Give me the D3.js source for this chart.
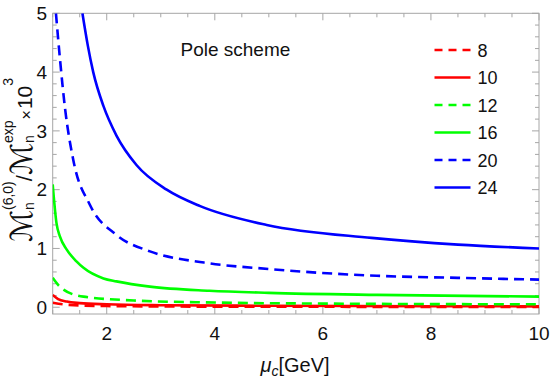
<!DOCTYPE html>
<html>
<head>
<meta charset="utf-8">
<script src="https://cdn.jsdelivr.net/npm/d3@7"></script>
<style>
  body { margin: 0; background: #fff; }
  svg { font-family: "Liberation Sans", Arial, sans-serif; }
</style>
</head>
<body>
<svg id="chart"></svg>
<script>
// values: [mu_c, M(6,0)/M(exp) x 10^3]
const n8 = [[1.0, 0.075], [1.3, 0.04], [2, 0.02], [4, 0.01], [10, 0.005]];
const n10 = [[1.0, 0.21], [1.1, 0.14], [1.26, 0.096], [1.5, 0.07], [2, 0.05], [3, 0.035], [5, 0.025], [10, 0.015]];
const n12 = [[1.0, 0.50], [1.1, 0.38], [1.2, 0.30], [1.57, 0.18], [2.5, 0.115], [4, 0.08], [6, 0.062], [10, 0.05]];
const n16 = [[1.0, 2.09], [1.07, 1.43], [1.135, 1.20], [1.26, 0.98], [1.44, 0.78], [1.57, 0.67], [1.94, 0.49],
  [2.18, 0.44], [2.8, 0.35], [3.9, 0.28], [5, 0.245], [7, 0.21], [10, 0.18]];
const n20 = [[1.06, 5.0], [1.135, 4.22], [1.23, 3.37], [1.38, 2.51], [1.69, 1.74], [2.18, 1.23], [2.8, 0.95],
  [3.8, 0.76], [5, 0.65], [7, 0.535], [8.5, 0.50], [10, 0.47]];
const n24 = [[1.55, 5.0], [1.65, 4.45], [1.75, 4.0], [1.94, 3.42], [2.18, 2.92], [2.55, 2.42], [3.11, 2.0],
  [3.73, 1.72], [4.96, 1.40], [6.9, 1.18], [8.5, 1.065], [10, 1.0]];

const seriesNames = ['8', '10', '12', '16', '20', '24'];
const seriesData = [n8, n10, n12, n16, n20, n24];
const seriesColors = ['#ff0000', '#ff0000', '#00ff00', '#00ff00', '#0000ff', '#0000ff'];
const seriesDashed = [true, false, true, false, true, false];

const xTicks = [2, 4, 6, 8, 10];
const yTicks = [0, 1, 2, 3, 4, 5];

const width = 552, height = 382;
const margin = { left: 52.7, right: 539, top: 13.3, bottom: 314 };

const svg = d3.select('#chart').attr('width', width).attr('height', height);

const x = d3.scaleLinear().domain([1, 10]).range([margin.left, margin.right]);
const y = d3.scaleLinear().domain([-0.115, 5]).range([margin.bottom, margin.top]);

// 裁剪区域
svg.append('clipPath').attr('id', 'clip')
  .append('rect')
  .attr('x', margin.left).attr('y', margin.top)
  .attr('width', margin.right - margin.left).attr('height', margin.bottom - margin.top);

// 框和刻度
const frameColor = '#a6a6a6';
const xMinor = d3.range(1, 10.01, 0.5);
const yMinor = d3.range(0, 5.01, 0.2);

const ticks = svg.append('g').attr('stroke', frameColor).attr('stroke-width', 1);
xMinor.forEach(v => {
  const major = xTicks.includes(v);
  const len = major ? 7 : 4;
  ticks.append('line').attr('x1', x(v)).attr('x2', x(v)).attr('y1', margin.bottom).attr('y2', margin.bottom - len);
  ticks.append('line').attr('x1', x(v)).attr('x2', x(v)).attr('y1', margin.top).attr('y2', margin.top + len);
});
yMinor.forEach(v => {
  const major = Math.abs(v - Math.round(v)) < 1e-6;
  const len = major ? 7 : 4;
  ticks.append('line').attr('y1', y(v)).attr('y2', y(v)).attr('x1', margin.left).attr('x2', margin.left + len);
  ticks.append('line').attr('y1', y(v)).attr('y2', y(v)).attr('x1', margin.right).attr('x2', margin.right - len);
});

svg.append('rect')
  .attr('x', margin.left).attr('y', margin.top)
  .attr('width', margin.right - margin.left).attr('height', margin.bottom - margin.top)
  .attr('fill', 'none').attr('stroke', frameColor).attr('stroke-width', 1);

// 刻度标签
svg.append('g').selectAll('text').data(xTicks).enter().append('text')
  .attr('x', d => x(d)).attr('y', 340)
  .attr('text-anchor', 'middle').attr('font-size', 19).attr('fill', '#111')
  .text(d => d);

svg.append('g').selectAll('text').data(yTicks).enter().append('text')
  .attr('x', 47).attr('y', d => y(d) + 6.8)
  .attr('text-anchor', 'end').attr('font-size', 19).attr('fill', '#111')
  .text(d => d);

// 曲线
const line = d3.line()
  .x(d => x(d[0]))
  .y(d => y(d[1]))
  .curve(d3.curveMonotoneX);

const plot = svg.append('g').attr('clip-path', 'url(#clip)');
seriesData.forEach((data, i) => {
  plot.append('path')
    .datum(data)
    .attr('d', line)
    .attr('fill', 'none')
    .attr('stroke', seriesColors[i])
    .attr('stroke-width', 2.6)
    .attr('stroke-dasharray', seriesDashed[i] ? '10,6' : null);
});

// 标题
svg.append('text')
  .attr('x', 180.5).attr('y', 55.5)
  .attr('font-size', 19).attr('fill', '#111')
  .text('Pole scheme');

// 图例
const legend = svg.append('g');
seriesNames.forEach((name, i) => {
  const cy = 50 + i * 27.5;
  legend.append('line')
    .attr('x1', 434.5).attr('x2', 470.5)
    .attr('y1', cy).attr('y2', cy)
    .attr('stroke', seriesColors[i])
    .attr('stroke-width', 2.6)
    .attr('stroke-dasharray', seriesDashed[i] ? '8,6' : null);
  legend.append('text')
    .attr('x', 477.5).attr('y', cy + 6.5)
    .attr('font-size', 18).attr('fill', '#111')
    .text(name);
});

// x 轴标题
const xl = svg.append('text')
  .attr('x', 295).attr('y', 372)
  .attr('text-anchor', 'middle').attr('font-size', 20).attr('fill', '#111');
xl.append('tspan').attr('font-style', 'italic').text('μ');
xl.append('tspan').attr('font-style', 'italic').attr('font-size', 14).attr('dy', 4).text('c');
xl.append('tspan').attr('dy', -4).text('[GeV]');

// y 轴标题：逐段排版，上下标叠放
const yParts = [
  { t: 'ℳ', size: 30, font: 'DejaVu Sans' },
  { sup: '(6,0)', sub: 'n', size: 14 },
  { t: '/', size: 22 },
  { t: 'ℳ', size: 30, font: 'DejaVu Sans' },
  { sup: 'exp', sub: 'n', size: 14 },
  { t: '×', size: 16, gap: 1 },
  { t: '10', size: 21 },
  { sup: '3', size: 14 }
];
const yl = svg.append('g').attr('fill', '#111');
let cursor = 0;
yParts.forEach(p => {
  cursor += p.gap || 0;
  let w = 0;
  if (p.t) {
    const t = yl.append('text').attr('x', cursor).attr('y', 0)
      .attr('font-size', p.size).text(p.t);
    if (p.font) t.attr('font-family', p.font);
    w = t.node().getComputedTextLength();
  } else {
    const s = yl.append('text').attr('x', cursor).attr('y', -19)
      .attr('font-size', p.size).text(p.sup);
    w = s.node().getComputedTextLength();
    if (p.sub) {
      const b = yl.append('text').attr('x', cursor).attr('y', 2)
        .attr('font-size', p.size).text(p.sub);
      w = Math.max(w, b.node().getComputedTextLength());
    }
  }
  cursor += w + (p.gap || 0);
});
yl.attr('transform', `translate(32,${160 + cursor / 2}) rotate(-90)`);
</script>
</body>
</html>
